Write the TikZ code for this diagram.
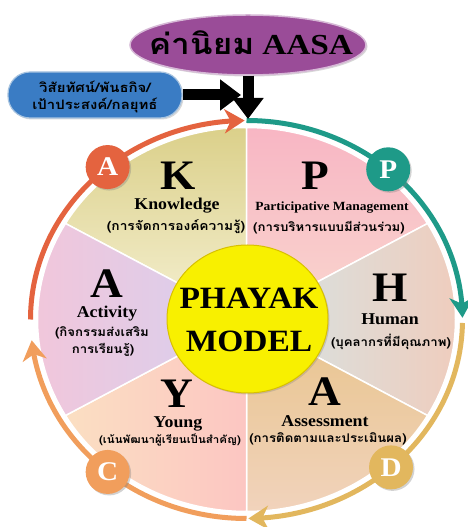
\documentclass[tikz,border=0pt]{standalone}
\usepackage{fontspec}
\setmainfont{Liberation Serif}
\newfontfamily\thai[Script=Thai,FakeStretch=1.1]{Loma}
\newfontfamily\thaiw[Script=Thai,FakeStretch=1.15]{Loma}
\newfontfamily\lat[FakeStretch=1.08]{Liberation Serif}
\newfontfamily\latw[FakeStretch=1.15]{Liberation Serif}
\usetikzlibrary{arrows.meta,bending,shadows,shapes.geometric}
\definecolor{cRed}{HTML}{E4633F}
\definecolor{cTeal}{HTML}{1E9A88}
\definecolor{cGold}{HTML}{E2B75E}
\definecolor{cOrange}{HTML}{F19E5C}
\definecolor{cPurple}{HTML}{9A4C98}
\definecolor{cPurpleE}{HTML}{D6B8D6}
\definecolor{cBlue}{HTML}{3A7CC4}
\definecolor{cBlueE}{HTML}{A8C4E0}
\definecolor{cYellow}{HTML}{F8F000}
\definecolor{cYellowE}{HTML}{D8C000}
\definecolor{kT}{HTML}{DBD08A}\definecolor{kB}{HTML}{F5F0D2}
\definecolor{pT}{HTML}{F8B6C4}\definecolor{pB}{HTML}{F9D6CE}
\definecolor{hL}{HTML}{D4E5E6}\definecolor{hR}{HTML}{F0CCBC}
\definecolor{aT}{HTML}{E8C48C}\definecolor{aB}{HTML}{F1D3BC}
\definecolor{yL}{HTML}{FBDFC2}\definecolor{yR}{HTML}{FCC6C2}
\definecolor{vL}{HTML}{F2C6DA}\definecolor{vR}{HTML}{D6D0F0}
\begin{document}
\begin{tikzpicture}[x=1pt,y=1pt,
  ringarrow/.style={line width=5pt,-{Stealth[length=20pt 0,width=24pt 0,inset=6pt 0]}},
  blackarrow/.style={line width=11pt,-{Triangle[length=21pt 0,width=30pt 0]}},
  badge/.style={circle,minimum size=44pt,inner sep=0pt,text=white,
    font=\lat\fontsize{27}{27}\selectfont\bfseries,
    drop shadow={opacity=0.35,shadow xshift=1.5pt,shadow yshift=-1.5pt}},
  bigl/.style={font=\lat\fontsize{42}{42}\selectfont\bfseries},
  eng/.style={font=\lat\fontsize{16.5}{16.5}\selectfont\bfseries},
  engs/.style={font=\lat\fontsize{12.5}{12.5}\selectfont\bfseries},
  th/.style={font=\thai\fontsize{12}{12}\selectfont\bfseries},
  sect/.style={draw=white,line width=1.5pt}
]
\useasboundingbox (0,0) rectangle (468,527);
\fill[white] (0,0) rectangle (468,527);
\coordinate (C) at (246.5,207.5);
\begin{scope}[shift={(246.5,207.5)}]
  % sectors
  \shade[top color=kT, bottom color=kB, sect] (0,0) -- (90:209 and 192) arc[start angle=90,end angle=150,x radius=209,y radius=192] -- cycle;
  \shade[top color=pT, bottom color=pB, sect] (0,0) -- (30:209 and 192) arc[start angle=30,end angle=90,x radius=209,y radius=192] -- cycle;
  \shade[left color=hL, right color=hR, sect] (0,0) -- (-30:209 and 192) arc[start angle=-30,end angle=30,x radius=209,y radius=192] -- cycle;
  \shade[top color=aT, bottom color=aB, sect] (0,0) -- (-90:209 and 192) arc[start angle=-90,end angle=-30,x radius=209,y radius=192] -- cycle;
  \shade[left color=yL, right color=yR, sect] (0,0) -- (210:209 and 192) arc[start angle=210,end angle=270,x radius=209,y radius=192] -- cycle;
  \shade[left color=vL, right color=vR, sect] (0,0) -- (150:209 and 192) arc[start angle=150,end angle=210,x radius=209,y radius=192] -- cycle;
  % ring arrows
  \draw[ringarrow,cRed] (180:216 and 199) arc[start angle=180,end angle=90.5,x radius=216,y radius=199];
  \draw[ringarrow,cTeal] (90:216 and 199) arc[start angle=90,end angle=0.5,x radius=216,y radius=199];
  \draw[ringarrow,cGold] (-1:216 and 199) arc[start angle=-1,end angle=-89.5,x radius=216,y radius=199];
  \draw[ringarrow,cOrange] (-90:216 and 199) arc[start angle=-90,end angle=-174,x radius=216,y radius=199];
  % badges
  \node[badge,fill=cRed] (bA) at (130:216 and 199) {A};
  \node[badge,fill=cTeal] (bP) at (49:216 and 199) {P};
  \node[badge,fill=cGold] (bD) at (-48:216 and 199) {D};
  \node[badge,fill=cOrange] (bC) at (-130:216 and 199) {C};
\end{scope}
% centre
\node[ellipse,minimum width=161pt,minimum height=148pt,fill=cYellow,draw=cYellowE,line width=1pt,
  drop shadow={opacity=0.3,shadow xshift=1.5pt,shadow yshift=-1.5pt}] (core) at (247.5,208) {};
\node[font=\lat\fontsize{31}{31}\selectfont\bfseries] (phayak) at (249,229) {PHAYAK};
\node[font=\lat\fontsize{31}{31}\selectfont\bfseries] (model) at (249,186) {MODEL};
% K
\node[bigl] (kL) at (178,351) {K};
\node[eng] (kE) at (177,321) {Knowledge};
\node[th,font=\thai\fontsize{12.5}{12.5}\selectfont\bfseries] (kTx) at (176,300) {(การจัดการองค์ความรู้)};
% P
\node[bigl] (pL) at (315,351) {P};
\node[engs] (pE) at (332,319) {Participative Management};
\node[th] (pTx) at (329,299) {(การบริหารแบบมีส่วนร่วม)};
% H
\node[bigl] (hLt) at (390,239) {H};
\node[eng] (hE) at (390,208) {Human};
\node[th] (hTx) at (391,185) {(บุคลากรที่มีคุณภาพ)};
% Assessment
\node[bigl] (aL) at (325,135) {A};
\node[eng] (aE) at (325,106) {Assessment};
\node[th] (aTx) at (328,88) {(การติดตามและประเมินผล)};
% Young
\node[bigl] (yLt) at (177,133) {Y};
\node[eng] (yE) at (178,103) {Young};
\node[th,font=\thai\fontsize{10.5}{10.5}\selectfont\bfseries] (yTx) at (170,87) {(เน้นพัฒนาผู้เรียนเป็นสำคัญ)};
% Activity
\node[bigl] (vLt) at (107,243) {A};
\node[eng] (vE) at (107,213) {Activity};
\node[th] (vT1) at (102,194) {(กิจกรรมส่งเสริม};
\node[th] (vT2) at (103,177) {การเรียนรู้)};
% top
\node[ellipse,minimum width=236pt,minimum height=60pt,fill=cPurple,draw=cPurpleE,line width=1.5pt,inner sep=0pt,
  drop shadow={opacity=0.3,shadow xshift=1.5pt,shadow yshift=-1.5pt}] (val) at (248,482) {};
\node[inner sep=0pt] (valt) at (251,484) {{\thaiw\fontsize{29}{29}\selectfont\bfseries ค่านิยม}\hspace{8pt}{\latw\fontsize{29}{29}\selectfont\bfseries AASA}};
\node[rectangle,rounded corners=22pt,minimum width=174pt,minimum height=46pt,fill=cBlue,draw=cBlueE,line width=1.2pt,
  drop shadow={opacity=0.3,shadow xshift=1.5pt,shadow yshift=-1.5pt}] (box) at (95,432) {};
\node[font=\thaiw\fontsize{13}{13}\selectfont\bfseries] (boxt1) at (95,440) {วิสัยทัศน์/พันธกิจ/};
\node[font=\thaiw\fontsize{13}{13}\selectfont\bfseries] (boxt2) at (95,422) {เป้าประสงค์/กลยุทธ์};
\coordinate (rtop) at (248,408);
\coordinate (hend) at (241,432);
\draw[blackarrow] (val.south) -- (rtop);
\draw[blackarrow] (box.east) -- (hend);
\end{tikzpicture}
\end{document}
